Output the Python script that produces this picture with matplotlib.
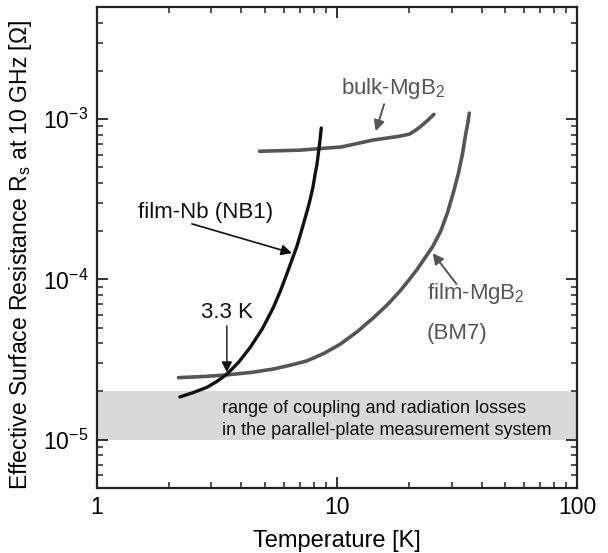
import matplotlib
matplotlib.use("Agg")
import matplotlib.pyplot as plt
from matplotlib.ticker import LogLocator, NullFormatter, FixedLocator

plt.rcParams['font.family'] = ['Liberation Sans', 'DejaVu Sans']
plt.rcParams['mathtext.fontset'] = 'custom'
plt.rcParams['mathtext.rm'] = 'Liberation Sans'

# film-Nb (NB1)
nb_T = [2.22, 2.5, 2.87, 3.15, 3.48, 3.9, 4.35, 4.9, 5.43, 5.8, 6.18, 6.5, 6.8, 7.05, 7.3, 7.55, 7.75, 7.95, 8.1, 8.25, 8.35, 8.48, 8.6]
nb_R = [1.85e-5, 1.96e-5, 2.12e-5, 2.3e-5, 2.56e-5, 3.05e-5, 3.76e-5, 4.95e-5, 6.67e-5, 8.4e-5, 1.08e-4, 1.33e-4, 1.6e-4, 1.92e-4, 2.3e-4, 2.75e-4, 3.2e-4, 3.8e-4, 4.5e-4, 5.2e-4, 6.0e-4, 7.2e-4, 8.8e-4]

# bulk-MgB2
bulk_T = [4.76, 7.0, 10.4, 12.2, 14.1, 16.0, 18.0, 19.2, 20.0, 21.2, 22.4, 23.8, 25.3]
bulk_R = [6.3e-4, 6.4e-4, 6.7e-4, 7.05e-4, 7.4e-4, 7.6e-4, 7.8e-4, 7.95e-4, 8.06e-4, 8.5e-4, 9.05e-4, 9.8e-4, 1.07e-3]

# film-MgB2 (BM7)
film_T = [2.19, 2.8, 3.48, 4.4, 5.43, 6.4, 7.48, 8.8, 10.3, 12.2, 14.2, 16.2, 18.3, 20.0, 21.5, 23.2, 25.0, 27.0, 28.8, 30.6, 32.0, 33.3, 34.3, 35.0, 35.5]
film_R = [2.44e-5, 2.48e-5, 2.54e-5, 2.63e-5, 2.76e-5, 2.92e-5, 3.1e-5, 3.45e-5, 3.94e-5, 4.75e-5, 5.78e-5, 6.95e-5, 8.47e-5, 1.0e-4, 1.15e-4, 1.36e-4, 1.6e-4, 2.0e-4, 2.6e-4, 3.55e-4, 4.6e-4, 6.1e-4, 8.06e-4, 9.4e-4, 1.09e-3]

band = (1e-5, 2e-5)

fig = plt.figure(figsize=(6.08, 5.53), dpi=100)
ax = fig.add_axes([0.159, 0.1175, 0.7906, 0.8698])

ax.axhspan(band[0], band[1], color='#d9d9d9', lw=0, zorder=0)
ax.plot(bulk_T, bulk_R, color='#555555', lw=2.6, zorder=2, solid_capstyle='round')
ax.plot(film_T, film_R, color='#555555', lw=2.6, zorder=2, solid_capstyle='round')
ax.plot(nb_T, nb_R, color='#111111', lw=2.4, zorder=3, solid_capstyle='round')

ax.set_xscale('log')
ax.set_yscale('log')
ax.set_xlim(1, 100)
ax.set_ylim(5e-6, 5e-3)

ax.set_xticks([1, 10, 100])
ax.set_xticklabels(['1', '10', '100'])
ax.yaxis.set_major_locator(FixedLocator([1e-5, 1e-4, 1e-3]))
ax.set_yticklabels(['10$^{-5}$', '10$^{-4}$', '10$^{-3}$'])
ax.xaxis.set_minor_locator(LogLocator(base=10, subs=range(2, 10)))
ax.yaxis.set_minor_locator(LogLocator(base=10, subs=range(2, 10)))
ax.xaxis.set_minor_formatter(NullFormatter())
ax.yaxis.set_minor_formatter(NullFormatter())

ax.tick_params(which='both', direction='in', top=True, right=True, labelsize=16.5, color='#222222')
ax.tick_params(which='major', length=8, width=1.3, pad=6)
ax.tick_params(which='minor', length=4.5, width=1.1)
for s in ax.spines.values():
    s.set_linewidth(1.6)
    s.set_color('#222222')

ax.set_xlabel('Temperature [K]', fontsize=17, labelpad=8)
ax.set_ylabel('Effective Surface Resistance R$_\\mathregular{s}$ at 10 GHz [\u03a9]', fontsize=16.5)
ax.yaxis.set_label_coords(-0.13, 0.485)

gray = '#555555'
ax.text(10.4, 1.43e-3, 'bulk-MgB$_2$', fontsize=16, color=gray, ha='left', va='baseline')
ax.annotate('', xy=(14.5, 8.4e-4), xytext=(15.7, 1.24e-3),
            arrowprops=dict(arrowstyle='-|>', color=gray, lw=1.4, mutation_scale=16, shrinkA=0, shrinkB=0))

ax.text(2.84, 2.6e-4, 'film-Nb (NB1)', fontsize=16, color='#111111', ha='center', va='center')
ax.annotate('', xy=(6.5, 1.46e-4), xytext=(2.49, 2.22e-4),
            arrowprops=dict(arrowstyle='-|>', color='#111111', lw=1.2, mutation_scale=16, shrinkA=0, shrinkB=0))

ax.text(23.7, 7.57e-5, 'film-MgB$_2$', fontsize=16, color=gray, ha='left', va='baseline')
ax.text(23.7, 4.57e-5, '(BM7)', fontsize=16, color=gray, ha='left', va='center')
ax.annotate('', xy=(25.0, 1.46e-4), xytext=(31.4, 9.37e-5),
            arrowprops=dict(arrowstyle='-|>', color=gray, lw=1.4, mutation_scale=16, shrinkA=0, shrinkB=0))

ax.text(3.48, 6.2e-5, '3.3 K', fontsize=16, color='#111111', ha='center', va='center')
ax.annotate('', xy=(3.48, 2.63e-5), xytext=(3.48, 5.13e-5),
            arrowprops=dict(arrowstyle='-|>', color='#111111', lw=1.0, mutation_scale=16, shrinkA=0, shrinkB=0))

ax.text(3.32, 1.56e-5, 'range of coupling and radiation losses', fontsize=13, ha='left', va='center', color='#111111')
ax.text(3.32, 1.14e-5, 'in the parallel-plate measurement system', fontsize=13, ha='left', va='center', color='#111111')

fig.savefig('out.png', dpi=100)
